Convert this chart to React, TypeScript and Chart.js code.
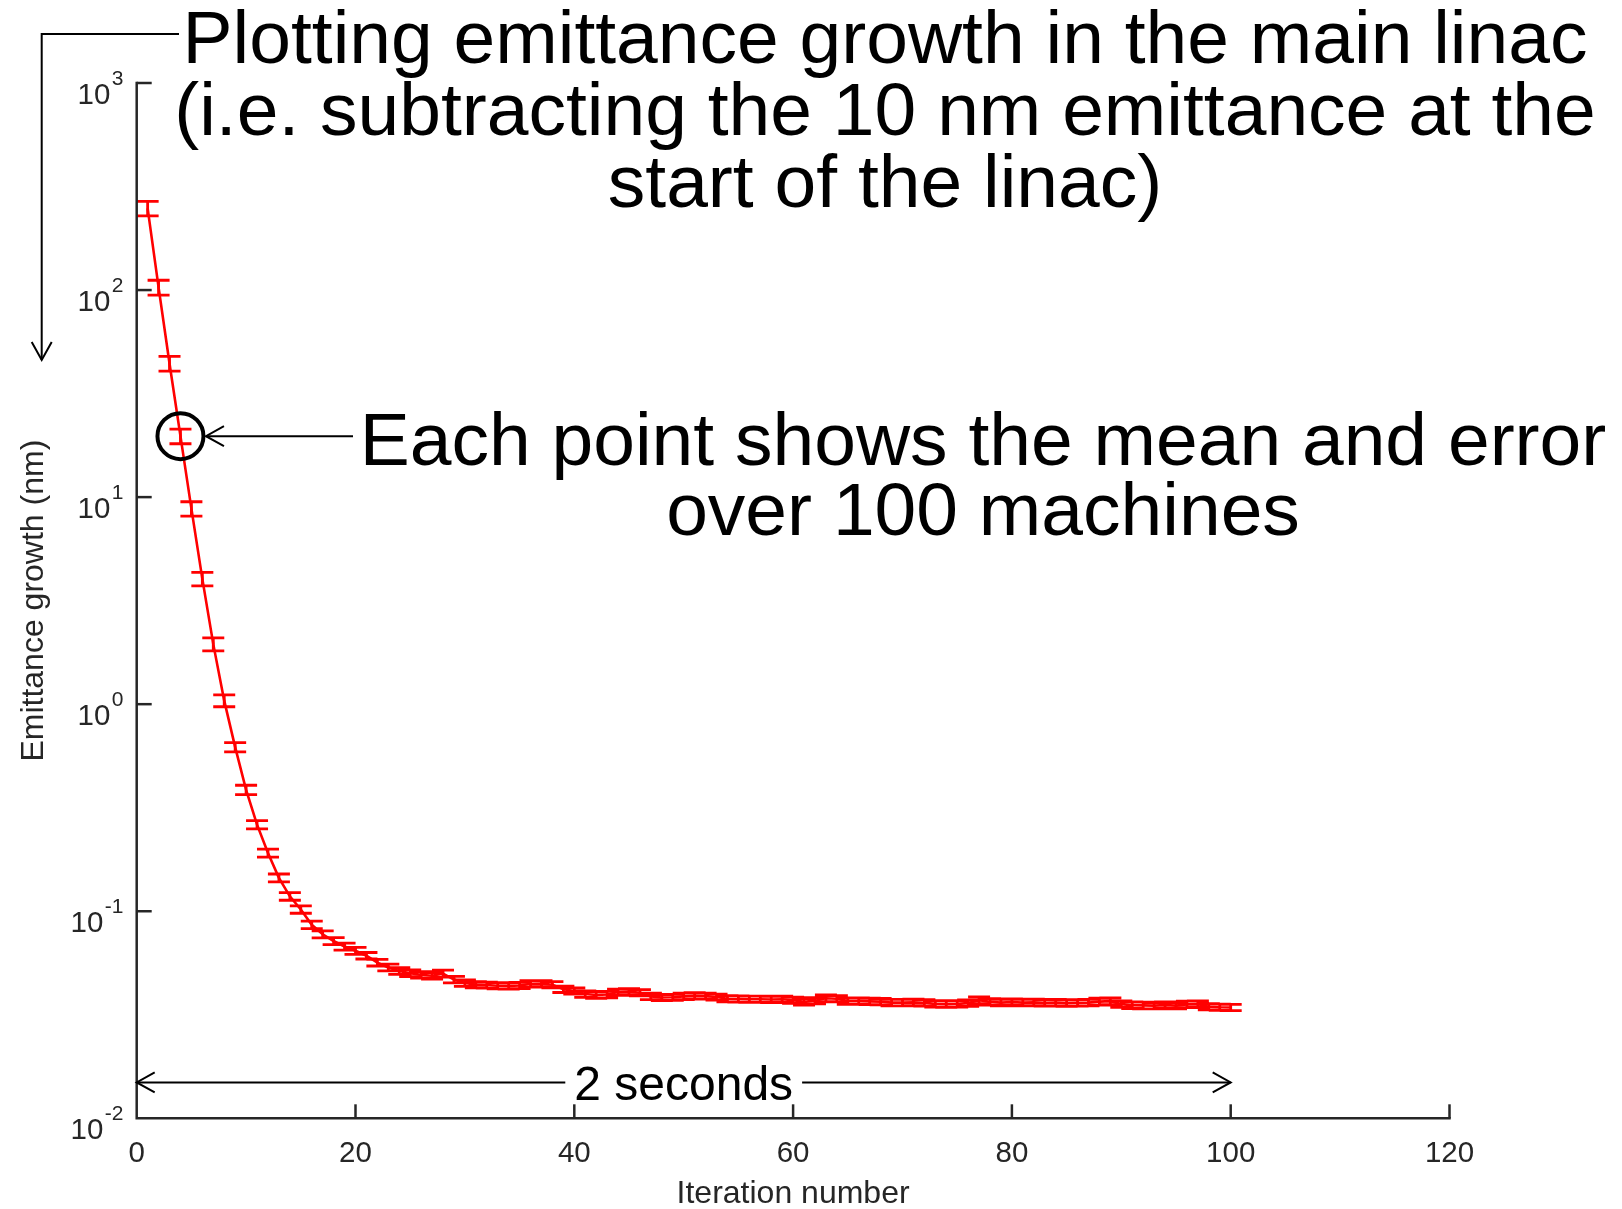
import { useEffect, useRef } from "react";
import { Chart, registerables } from "chart.js";

Chart.register(...registerables);

// ---------- data ----------
const ITERATIONS = Array.from({ length: 100 }, (_, i) => i + 1);

const MEAN_GROWTH = [
  248, 103, 44.2, 19.7, 8.8, 4.03, 1.95, 1.04, 0.62, 0.386,
  0.262, 0.191, 0.145, 0.118, 0.102, 0.086, 0.0774, 0.0718, 0.0675, 0.0644,
  0.061, 0.0565, 0.0535, 0.0515, 0.0502, 0.0493, 0.0488, 0.05, 0.0468, 0.045,
  0.0442, 0.044, 0.0437, 0.0436, 0.0438, 0.0446, 0.0447, 0.0442, 0.042, 0.0412,
  0.0398, 0.0394, 0.0396, 0.0407, 0.0409, 0.0404, 0.0388, 0.0383, 0.0384, 0.0388,
  0.039, 0.0389, 0.0385, 0.0378, 0.0377, 0.0376, 0.0376, 0.0375, 0.0376, 0.0372,
  0.0365, 0.037, 0.038, 0.0378, 0.0368, 0.0368, 0.0367, 0.0366, 0.0362, 0.0362,
  0.0363, 0.0361, 0.0357, 0.0356, 0.0357, 0.036, 0.0372, 0.0365, 0.0362, 0.0364,
  0.0362, 0.0363, 0.0361, 0.0362, 0.036, 0.0361, 0.0362, 0.0366, 0.0368, 0.0356,
  0.0352, 0.0351, 0.035, 0.0352, 0.035, 0.0355, 0.0356, 0.0346, 0.0344, 0.0343,
];

const ERROR = [
  20, 8.5, 3.6, 1.6, 0.7, 0.3, 0.14, 0.068, 0.032, 0.02,
  0.012, 0.0085, 0.0063, 0.005, 0.0042, 0.0035, 0.003, 0.0028, 0.0026, 0.0025,
  0.0022, 0.0021, 0.002, 0.0019, 0.0019, 0.0018, 0.0018, 0.0019, 0.0017, 0.0016,
  0.0015, 0.0015, 0.0015, 0.0015, 0.0015, 0.0016, 0.0015, 0.0015, 0.0015, 0.0014,
  0.0014, 0.0014, 0.0014, 0.0014, 0.0014, 0.0014, 0.0014, 0.0013, 0.0013, 0.0014,
  0.0014, 0.0013, 0.0013, 0.0013, 0.0013, 0.0013, 0.0013, 0.0013, 0.0013, 0.0013,
  0.0013, 0.0013, 0.0014, 0.0013, 0.0013, 0.0013, 0.0013, 0.0013, 0.0013, 0.0013,
  0.0013, 0.0013, 0.0013, 0.0013, 0.0013, 0.0013, 0.0014, 0.0013, 0.0013, 0.0013,
  0.0013, 0.0013, 0.0013, 0.0013, 0.0013, 0.0013, 0.0013, 0.0014, 0.0014, 0.0013,
  0.0013, 0.0013, 0.0012, 0.0013, 0.0012, 0.0013, 0.0013, 0.0012, 0.0012, 0.0012,
];

const X_TICKS = [0, 20, 40, 60, 80, 100, 120];
const Y_TICK_EXPONENTS = [-2, -1, 0, 1, 2, 3];

const X_TITLE = "Iteration number";
const Y_TITLE = "Emittance growth (nm)";
const TITLE_LINES = [
  "Plotting emittance growth in the main linac",
  "(i.e. subtracting the 10 nm emittance at the",
  "start of the linac)",
];
const NOTE_LINES = ["Each point shows the mean and error", "over 100 machines"];
const SPAN_LABEL = "2 seconds";
const SPAN_FROM = 0;
const SPAN_TO = 100;
const SPAN_LEVEL = 0.0149;
const CIRCLED_INDEX = 3;

// ---------- styles ----------
const FONT = '"Liberation Sans", Arial, Helvetica, sans-serif';
const AXIS_COLOR = "#262626";
const RED = "#ff0000";
const W = 1622;
const H = 1209;
const AREA = { left: 136.7, right: 1449.5, top: 83, bottom: 1118.3 };

function arrowHead(ctx: CanvasRenderingContext2D, tx: number, ty: number, dx: number, dy: number) {
  const len = 18;
  const half = 10;
  const px = -dy;
  const py = dx;
  ctx.beginPath();
  ctx.moveTo(tx - dx * len + px * half, ty - dy * len + py * half);
  ctx.lineTo(tx, ty);
  ctx.lineTo(tx - dx * len - px * half, ty - dy * len - py * half);
  ctx.stroke();
}

const matlabPlugin = {
  id: "matlabStyle",
  afterDatasetsDraw(chart: any) {
    const ctx: CanvasRenderingContext2D = chart.ctx;
    const xs = chart.scales.x;
    const ys = chart.scales.y;
    ctx.save();
    ctx.strokeStyle = RED;
    ctx.lineWidth = 2.8;
    ctx.beginPath();
    for (let i = 0; i < ITERATIONS.length; i++) {
      const x = xs.getPixelForValue(ITERATIONS[i]);
      const yt = ys.getPixelForValue(MEAN_GROWTH[i] + ERROR[i]);
      const yb = ys.getPixelForValue(MEAN_GROWTH[i] - ERROR[i]);
      ctx.moveTo(x, yt);
      ctx.lineTo(x, yb);
      ctx.moveTo(x - 11, yt);
      ctx.lineTo(x + 11, yt);
      ctx.moveTo(x - 11, yb);
      ctx.lineTo(x + 11, yb);
    }
    ctx.stroke();
    ctx.restore();
  },
  afterDraw(chart: any) {
    const ctx: CanvasRenderingContext2D = chart.ctx;
    const xs = chart.scales.x;
    const ys = chart.scales.y;
    const { left, right, top, bottom } = chart.chartArea;
    ctx.save();

    // axes lines
    ctx.strokeStyle = AXIS_COLOR;
    ctx.lineWidth = 2.5;
    ctx.lineCap = "square";
    ctx.beginPath();
    ctx.moveTo(left, top);
    ctx.lineTo(left, bottom);
    ctx.lineTo(right, bottom);
    ctx.stroke();
    ctx.lineCap = "butt";

    // x ticks and labels
    ctx.fillStyle = AXIS_COLOR;
    ctx.font = `29.5px ${FONT}`;
    ctx.textAlign = "center";
    ctx.textBaseline = "alphabetic";
    for (const t of X_TICKS) {
      const x = xs.getPixelForValue(t);
      if (t !== X_TICKS[0]) {
        ctx.beginPath();
        ctx.moveTo(x, bottom);
        ctx.lineTo(x, bottom - 14);
        ctx.stroke();
      }
      ctx.fillText(String(t), x, bottom + 43.5);
    }

    // y ticks and labels (10^n)
    const labelRight = 123.5;
    for (const e of Y_TICK_EXPONENTS) {
      const y = ys.getPixelForValue(Math.pow(10, e));
      if (e !== Y_TICK_EXPONENTS[0]) {
        ctx.beginPath();
        ctx.moveTo(left, y);
        ctx.lineTo(left + 15, y);
        ctx.stroke();
      }
      const expStr = String(e);
      ctx.textAlign = "right";
      ctx.font = `21px ${FONT}`;
      const ew = ctx.measureText(expStr).width;
      ctx.fillText(expStr, labelRight, y + 2);
      ctx.font = `29.5px ${FONT}`;
      ctx.fillText("10", labelRight - ew - 1.5, y + 21);
    }

    // axis titles
    ctx.font = `32px ${FONT}`;
    ctx.textAlign = "center";
    ctx.fillText(X_TITLE, (left + right) / 2, 1203);
    ctx.save();
    ctx.translate(43, (top + bottom) / 2);
    ctx.rotate(-Math.PI / 2);
    ctx.fillText(Y_TITLE, 0, 0);
    ctx.restore();

    // ---------- annotations (black) ----------
    ctx.fillStyle = "#000000";
    ctx.strokeStyle = "#000000";
    ctx.lineWidth = 2;

    ctx.font = `75px ${FONT}`;
    ctx.textAlign = "center";
    const titleBase = [63, 135, 207];
    TITLE_LINES.forEach((s, i) => ctx.fillText(s, 885, titleBase[i]));
    const noteBase = [465, 535];
    NOTE_LINES.forEach((s, i) => ctx.fillText(s, 983, noteBase[i]));

    // bracket arrow from title down the left side
    ctx.beginPath();
    ctx.moveTo(179, 34);
    ctx.lineTo(41.7, 34);
    ctx.lineTo(41.7, 360);
    ctx.stroke();
    arrowHead(ctx, 41.7, 360, 0, 1);

    // circle round one point + arrow from note
    const cx = xs.getPixelForValue(ITERATIONS[CIRCLED_INDEX]);
    const cy = ys.getPixelForValue(MEAN_GROWTH[CIRCLED_INDEX]);
    ctx.lineWidth = 4;
    ctx.beginPath();
    ctx.arc(cx, cy, 23, 0, Math.PI * 2);
    ctx.stroke();
    ctx.lineWidth = 2;
    ctx.beginPath();
    ctx.moveTo(cx + 25.5, cy);
    ctx.lineTo(353, cy);
    ctx.stroke();
    arrowHead(ctx, cx + 25.5, cy, -1, 0);

    // "2 seconds" double arrow
    const x0 = xs.getPixelForValue(SPAN_FROM);
    const x1 = xs.getPixelForValue(SPAN_TO);
    const ay = ys.getPixelForValue(SPAN_LEVEL);
    ctx.font = `48px ${FONT}`;
    const tw = ctx.measureText(SPAN_LABEL).width;
    const mid = (x0 + x1) / 2;
    ctx.fillText(SPAN_LABEL, mid, ay + 18);
    ctx.beginPath();
    ctx.moveTo(x0, ay);
    ctx.lineTo(mid - tw / 2 - 9, ay);
    ctx.moveTo(mid + tw / 2 + 9, ay);
    ctx.lineTo(x1, ay);
    ctx.stroke();
    arrowHead(ctx, x0, ay, -1, 0);
    arrowHead(ctx, x1, ay, 1, 0);

    ctx.restore();
  },
};

export default function App() {
  const ref = useRef<HTMLCanvasElement>(null);

  useEffect(() => {
    const canvas = ref.current;
    if (!canvas) return;
    const chart = new Chart(canvas, {
      type: "line",
      data: {
        datasets: [
          {
            data: ITERATIONS.map((x, i) => ({ x, y: MEAN_GROWTH[i] })),
            borderColor: RED,
            backgroundColor: RED,
            borderWidth: 2.6,
            pointRadius: 0,
            tension: 0,
            fill: false,
          },
        ],
      },
      options: {
        animation: false,
        responsive: false,
        devicePixelRatio: 1,
        layout: {
          padding: {
            left: AREA.left,
            right: W - AREA.right,
            top: AREA.top,
            bottom: H - AREA.bottom,
          },
        },
        plugins: {
          legend: { display: false },
          tooltip: { enabled: false },
          title: { display: false },
        },
        scales: {
          x: { type: "linear", min: 0, max: 120, display: false },
          y: { type: "logarithmic", min: 0.01, max: 1000, display: false },
        },
      },
      plugins: [matlabPlugin],
    } as any);
    return () => chart.destroy();
  }, []);

  return (
    <div style={{ position: "absolute", left: 0, top: 0, width: W, height: H, background: "#fff" }}>
      <canvas ref={ref} width={W} height={H} style={{ display: "block" }} />
    </div>
  );
}
